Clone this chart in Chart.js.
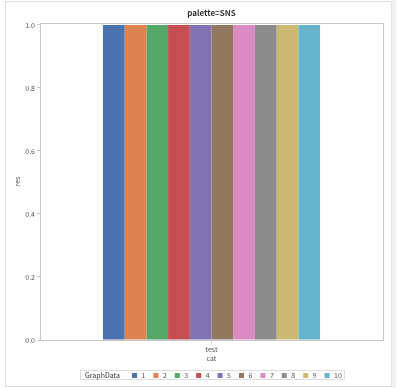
<!DOCTYPE html>
<html>
<head>
<meta charset="utf-8">
<script src="https://cdn.jsdelivr.net/npm/chart.js@4/dist/chart.umd.min.js"></script>
<style>
  html, body { margin: 0; padding: 0; background: #fff; }
  #wrap { width: 400px; height: 388px; }
</style>
</head>
<body>
<div id="wrap"><canvas id="chart" width="400" height="388"></canvas></div>
<script>
// Data
const categories = ['test'];
const seriesNames = ['1', '2', '3', '4', '5', '6', '7', '8', '9', '10'];
const seriesValues = [1.0, 1.0, 1.0, 1.0, 1.0, 1.0, 1.0, 1.0, 1.0, 1.0];
const yTicks = [0.0, 0.2, 0.4, 0.6, 0.8, 1.0];
const chartTitle = 'palette=SNS';
const legendTitle = 'GraphData';
// seaborn "deep" palette
const palette = ['#4c72b0', '#dd8452', '#55a868', '#c44e52', '#8172b3',
                 '#937860', '#da8bc3', '#8c8c8c', '#ccb974', '#64b5cd'];

const fontFamily = '"Noto Sans CJK JP", "Noto Sans", sans-serif';
const axisGray = '#c8c8c8';
const textGray = '#555555';

// outer panel, plot frame and title (centred over the plot area)
const framePlugin = {
  id: 'frame',
  beforeDraw(c) {
    const ctx = c.ctx;
    ctx.save();
    ctx.strokeStyle = '#e0e0e0';
    ctx.lineWidth = 1;
    ctx.strokeRect(5.5, 1.5, 386, 385);
    ctx.fillStyle = '#f2f2f2';
    ctx.fillRect(392, 0, 4, 388);
    ctx.restore();
  },
  afterDraw(c) {
    const a = c.chartArea;
    const ctx = c.ctx;
    ctx.save();
    ctx.strokeStyle = axisGray;
    ctx.lineWidth = 1;
    ctx.beginPath();
    ctx.moveTo(a.left, a.top + 0.5);
    ctx.lineTo(a.right + 0.5, a.top + 0.5);
    ctx.lineTo(a.right + 0.5, a.bottom);
    ctx.stroke();

    ctx.font = '600 8px ' + fontFamily;
    ctx.fillStyle = '#333333';
    ctx.textAlign = 'center';
    ctx.textBaseline = 'middle';
    ctx.fillText(chartTitle, (a.left + a.right) / 2, 13);
    ctx.restore();
  }
};

// legend box with "GraphData" caption
const legendPlugin = {
  id: 'graphLegend',
  afterDraw(c) {
    const ctx = c.ctx;
    ctx.save();
    ctx.strokeStyle = '#dddddd';
    ctx.lineWidth = 1;
    ctx.strokeRect(80.5, 370.5, 264, 9);
    ctx.font = '7px ' + fontFamily;
    ctx.textBaseline = 'middle';
    ctx.fillStyle = '#333333';
    ctx.fillText(legendTitle, 85, 375.5);
    c.data.datasets.forEach((ds, i) => {
      const x = 132 + i * 21.4;
      ctx.fillStyle = ds.backgroundColor;
      ctx.fillRect(x, 373, 5, 5);
      ctx.fillStyle = textGray;
      ctx.fillText(ds.label, x + 9.5, 375.5);
    });
    ctx.restore();
  }
};

const chart = new Chart(document.getElementById('chart'), {
  type: 'bar',
  data: {
    labels: categories,
    datasets: seriesNames.map((name, i) => ({
      label: name,
      data: [seriesValues[i]],
      backgroundColor: palette[i],
      borderWidth: 0,
      categoryPercentage: 0.633,
      barPercentage: 1.0,
    })),
  },
  options: {
    responsive: false,
    animation: false,
    layout: { padding: { left: 0, right: 17, top: 23, bottom: 22 } },
    plugins: {
      legend: { display: false },
      tooltip: { enabled: false },
      title: { display: false },
    },
    scales: {
      x: {
        grid: { drawOnChartArea: false, offset: false, tickLength: 3, color: axisGray },
        border: { color: axisGray },
        ticks: { color: textGray, padding: 2, font: { family: fontFamily, size: 7 } },
        title: {
          display: true,
          text: 'cat',
          color: textGray,
          font: { family: fontFamily, size: 7 },
          padding: { top: 0, bottom: 3 },
        },
        afterFit(scale) { scale.height = 26; },
      },
      y: {
        min: 0,
        max: 1.006,
        afterBuildTicks(scale) { scale.ticks = yTicks.map(v => ({ value: v })); },
        grid: { drawOnChartArea: false, tickLength: 3, color: axisGray },
        border: { color: axisGray },
        ticks: {
          color: textGray,
          padding: 2,
          font: { family: fontFamily, size: 7 },
          callback: v => v.toFixed(1),
        },
        title: {
          display: true,
          text: 'res',
          color: textGray,
          font: { family: fontFamily, size: 7 },
          padding: { top: 13, bottom: 0 },
        },
        afterFit(scale) { scale.width = 40; },
      },
    },
  },
  plugins: [framePlugin, legendPlugin],
});
</script>
</body>
</html>
